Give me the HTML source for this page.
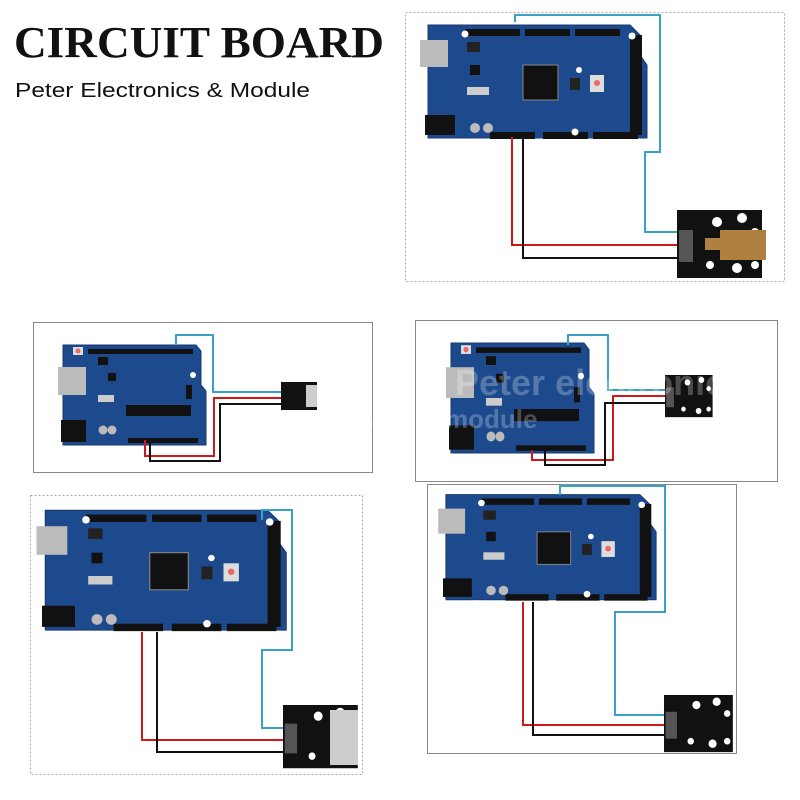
<!DOCTYPE html>
<html><head><style>
body{margin:0;background:#fff;width:800px;height:800px;overflow:hidden}
svg{display:block}
</style></head><body>
<svg width="800" height="800" viewBox="0 0 800 800" xmlns="http://www.w3.org/2000/svg">
<defs>
<g id="mega">
 <path d="M3,5 H205 L215,15 V35 L222,45 V118 H3 Z" fill="#1d4a8c" stroke="#163a70"/>
 <rect x="40" y="9" width="55" height="7" fill="#111"/>
 <rect x="100" y="9" width="45" height="7" fill="#111"/>
 <rect x="150" y="9" width="45" height="7" fill="#111"/>
 <rect x="205" y="15" width="12" height="100" fill="#111"/>
 <rect x="65" y="112" width="45" height="7" fill="#111"/>
 <rect x="118" y="112" width="45" height="7" fill="#111"/>
 <rect x="168" y="112" width="45" height="7" fill="#111"/>
 <rect x="-5" y="20" width="28" height="27" fill="#bbb"/>
 <rect x="0" y="95" width="30" height="20" fill="#111"/>
 <rect x="42" y="22" width="13" height="10" fill="#222"/>
 <rect x="45" y="45" width="10" height="10" fill="#111"/>
 <rect x="42" y="67" width="22" height="8" fill="#ccc"/>
 <rect x="98" y="45" width="35" height="35" fill="#111" stroke="#888"/>
 <rect x="145" y="58" width="10" height="12" fill="#222"/>
 <rect x="165" y="55" width="14" height="17" fill="#ddd"/>
 <circle cx="172" cy="63" r="3" fill="#e66"/>
 <circle cx="50" cy="108" r="5" fill="#bbb"/>
 <circle cx="63" cy="108" r="5" fill="#bbb"/>
 <circle cx="40" cy="14" r="3.5" fill="#fff"/><circle cx="207" cy="16" r="3.5" fill="#fff"/>
 <circle cx="35" cy="122" r="3.5" fill="#fff"/><circle cx="150" cy="112" r="3.5" fill="#fff"/>
 <circle cx="154" cy="50" r="3" fill="#fff"/>
</g>
<g id="uno">
 <path d="M5,0 H138 L143,6 V40 L148,46 V100 H5 Z" fill="#1d4a8c" stroke="#163a70"/>
 <rect x="30" y="4" width="105" height="5" fill="#111"/>
 <rect x="40" y="12" width="10" height="8" fill="#111"/>
 <rect x="70" y="93" width="70" height="5" fill="#111"/>
 <rect x="0" y="22" width="28" height="28" fill="#bbb"/>
 <rect x="3" y="75" width="25" height="22" fill="#111"/>
 <rect x="68" y="60" width="65" height="11" fill="#111"/>
 <rect x="40" y="50" width="16" height="7" fill="#ccc"/>
 <rect x="50" y="28" width="8" height="8" fill="#111"/>
 <rect x="15" y="2" width="10" height="8" fill="#ddd"/>
 <circle cx="20" cy="6" r="2.5" fill="#e66"/>
 <circle cx="45" cy="85" r="4.5" fill="#bbb"/><circle cx="54" cy="85" r="4.5" fill="#bbb"/>
 <rect x="128" y="40" width="6" height="14" fill="#111"/>
 <circle cx="135" cy="30" r="3" fill="#fff"/>
</g>
<g id="sensor">
 <rect x="0" y="0" width="85" height="68" fill="#111"/>
 <circle cx="40" cy="12" r="5" fill="#fff"/><circle cx="65" cy="8" r="5" fill="#fff"/>
 <circle cx="78" cy="22" r="4" fill="#fff"/><circle cx="33" cy="55" r="4" fill="#fff"/>
 <circle cx="60" cy="58" r="5" fill="#fff"/><circle cx="78" cy="55" r="4" fill="#fff"/>
 <rect x="2" y="20" width="14" height="32" fill="#555"/>
</g>
</defs>

<text x="14" y="57" font-family="Liberation Serif, serif" font-weight="bold" font-size="44" textLength="370" lengthAdjust="spacingAndGlyphs" fill="#111">CIRCUIT BOARD</text>
<text x="15" y="97" font-family="Liberation Sans, sans-serif" font-size="20" textLength="295" lengthAdjust="spacingAndGlyphs" fill="#111">Peter Electronics &amp; Module</text>

<!-- Panel 1 -->
<rect x="405.5" y="12.5" width="379" height="269" fill="none" stroke="#aaa" stroke-dasharray="2,2"/>
<use href="#mega" x="425" y="20"/>
<polyline points="515,22 515,15 660,15 660,152 645,152 645,232 680,232" fill="none" stroke="#3aa0c8" stroke-width="2"/>
<polyline points="512,137 512,245 680,245" fill="none" stroke="#d01818" stroke-width="2"/>
<polyline points="523,137 523,258 680,258" fill="none" stroke="#111" stroke-width="2"/>
<use href="#sensor" x="677" y="210"/>
<rect x="720" y="230" width="46" height="30" fill="#b08040"/>
<rect x="705" y="238" width="20" height="12" fill="#b08040"/>

<!-- Panel 2 -->
<rect x="33.5" y="322.5" width="339" height="150" fill="none" stroke="#888"/>
<use href="#uno" x="58" y="345"/>
<polyline points="176,345 176,335 213,335 213,392 281,392" fill="none" stroke="#3aa0c8" stroke-width="2"/>
<polyline points="145,440 145,456 214,456 214,398 281,398" fill="none" stroke="#d01818" stroke-width="2"/>
<polyline points="150,440 150,461 220,461 220,404 281,404" fill="none" stroke="#111" stroke-width="2"/>
<rect x="281" y="382" width="36" height="28" fill="#111"/>
<rect x="306" y="385" width="11" height="22" fill="#ccc"/>

<!-- Panel 3 -->
<rect x="415.5" y="320.5" width="362" height="161" fill="none" stroke="#888"/>
<use href="#uno" transform="translate(446,343) scale(1,1.1)"/>
<polyline points="568,345 568,335 608,335 608,390 665,390" fill="none" stroke="#3aa0c8" stroke-width="2"/>
<polyline points="532,450 532,460 613,460 613,396 665,396" fill="none" stroke="#d01818" stroke-width="2"/>
<polyline points="545,450 545,465 605,465 605,403 665,403" fill="none" stroke="#111" stroke-width="2"/>
<use href="#sensor" transform="translate(665,375) scale(0.56,0.62)"/>
<text x="455" y="395" font-family="Liberation Sans, sans-serif" font-weight="bold" font-size="36" fill="#fff" fill-opacity="0.25">Peter electronics</text>
<text x="250" y="428" font-family="Liberation Sans, sans-serif" font-weight="bold" font-size="26" fill="#fff" fill-opacity="0.25">Circuit board &amp; module</text>

<!-- Panel 4 -->
<rect x="30.5" y="495.5" width="332" height="279" fill="none" stroke="#aaa" stroke-dasharray="2,2"/>
<use href="#mega" transform="translate(42,505) scale(1.1,1.06)"/>
<polyline points="262,520 262,510 292,510 292,650 262,650 262,728 285,728" fill="none" stroke="#3aa0c8" stroke-width="2"/>
<polyline points="142,632 142,740 285,740" fill="none" stroke="#d01818" stroke-width="2"/>
<polyline points="157,632 157,752 285,752" fill="none" stroke="#111" stroke-width="2"/>
<use href="#sensor" transform="translate(283,705) scale(0.88,0.93)"/>
<rect x="330" y="710" width="28" height="55" fill="#ccc"/>

<!-- Panel 5 -->
<rect x="427.5" y="484.5" width="309" height="269" fill="none" stroke="#888"/>
<use href="#mega" transform="translate(443,490) scale(0.96,0.93)"/>
<polyline points="560,495 560,486 665,486 665,612 615,612 615,715 665,715" fill="none" stroke="#3aa0c8" stroke-width="2"/>
<polyline points="523,602 523,725 665,725" fill="none" stroke="#d01818" stroke-width="2"/>
<polyline points="533,602 533,735 665,735" fill="none" stroke="#111" stroke-width="2"/>
<use href="#sensor" transform="translate(664,695) scale(0.81,0.84)"/>
</svg>
</body></html>
